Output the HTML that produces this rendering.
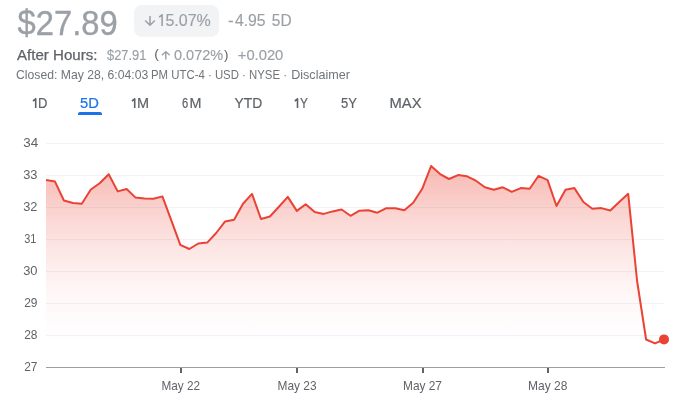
<!DOCTYPE html>
<html><head><meta charset="utf-8">
<style>
html,body{margin:0;padding:0;background:#fff;width:685px;height:407px;overflow:hidden}
svg{display:block;will-change:transform;font-family:"Liberation Sans",sans-serif}
.grid line{stroke:#f1f3f4;stroke-width:1}

</style></head><body>
<svg id="all" width="685" height="407" viewBox="0 0 685 407">
<defs><linearGradient id="g" x1="0" y1="166" x2="0" y2="343" gradientUnits="userSpaceOnUse"><stop offset="0" stop-color="#ea4335" stop-opacity="0.37"/><stop offset="0.137" stop-color="#ea4335" stop-opacity="0.3"/><stop offset="0.316" stop-color="#ea4335" stop-opacity="0.2"/><stop offset="0.486" stop-color="#ea4335" stop-opacity="0.125"/><stop offset="0.684" stop-color="#ea4335" stop-opacity="0.05"/><stop offset="0.853" stop-color="#ea4335" stop-opacity="0.02"/><stop offset="1" stop-color="#ea4335" stop-opacity="0"/></linearGradient></defs>
<rect x="134" y="5" width="85" height="31.8" rx="8" fill="#f1f3f4"/>
<path d="M150,16 V25.3 M145.2,20.4 L150,25.3 L154.8,20.4" fill="none" stroke="#9aa0a6" stroke-width="1.5"/>
<path d="M165.8,59.5 V51.6 M161.9,55.2 L165.8,51.6 L169.7,55.2" fill="none" stroke="#9aa0a6" stroke-width="1.4"/>
<text id="price" x="17.60" y="34.5" font-size="34.2" fill="#9aa0a6" stroke="#9aa0a6" stroke-width="0.35" textLength="100.07" lengthAdjust="spacingAndGlyphs">$27.89</text><text id="badge" x="165.40" y="26" font-size="16.5" fill="#9aa0a6" stroke="#9aa0a6" stroke-width="0.15" textLength="45.39" lengthAdjust="spacingAndGlyphs">5.07%</text><text id="chgA" x="227.90" y="25.5" font-size="16.5" fill="#9aa0a6" stroke="#9aa0a6" stroke-width="0.15" textLength="5.73" lengthAdjust="spacingAndGlyphs">-</text><text id="chgB" x="234.90" y="25.5" font-size="16.5" fill="#9aa0a6" stroke="#9aa0a6" stroke-width="0.15" textLength="30.76" lengthAdjust="spacingAndGlyphs">4.95</text><text id="chgC" x="271.80" y="25.5" font-size="16.5" fill="#9aa0a6" stroke="#9aa0a6" stroke-width="0.15" textLength="19.78" lengthAdjust="spacingAndGlyphs">5D</text><text id="ah" x="17.00" y="60" font-size="14" fill="#5f6368" stroke="#5f6368" stroke-width="0.25" textLength="80.41" lengthAdjust="spacingAndGlyphs">After Hours:</text><text id="ah1" x="107.00" y="60" font-size="14" fill="#9aa0a6" stroke="#9aa0a6" stroke-width="0.15" textLength="39.44" lengthAdjust="spacingAndGlyphs">$27.91</text><text id="ahp1" x="154.30" y="58.4" font-size="12.5" fill="#5f6368" textLength="4.70" lengthAdjust="spacingAndGlyphs">(</text><text id="ah2" x="174.00" y="60" font-size="14" fill="#9aa0a6" stroke="#9aa0a6" stroke-width="0.15" textLength="49.11" lengthAdjust="spacingAndGlyphs">0.072%</text><text id="ahp2" x="224.00" y="59.1" font-size="12.5" fill="#5f6368" textLength="4.40" lengthAdjust="spacingAndGlyphs">)</text><text id="ah3" x="237.80" y="60" font-size="14" fill="#9aa0a6" stroke="#9aa0a6" stroke-width="0.15" textLength="45.53" lengthAdjust="spacingAndGlyphs">+0.020</text><text id="closedA" x="16.00" y="78.6" font-size="13" fill="#70757a" textLength="132.28" lengthAdjust="spacingAndGlyphs">Closed: May 28, 6:04:03</text><text id="closedB" x="151.00" y="78.6" font-size="13" fill="#70757a" textLength="136.01" lengthAdjust="spacingAndGlyphs">PM UTC-4 · USD · NYSE ·</text><text id="closedC" x="291.20" y="78.6" font-size="13" fill="#70757a" textLength="58.70" lengthAdjust="spacingAndGlyphs">Disclaimer</text><text id="tabD" x="38.00" y="108" font-size="14" fill="#5f6368" stroke="#5f6368" stroke-width="0.2" textLength="9.41" lengthAdjust="spacingAndGlyphs">D</text><text id="tab5D" x="80.00" y="108" font-size="14" fill="#1a73e8" stroke="#1a73e8" stroke-width="0.2" textLength="18.81" lengthAdjust="spacingAndGlyphs">5D</text><text id="tabM" x="137.00" y="108" font-size="14" fill="#5f6368" stroke="#5f6368" stroke-width="0.2" textLength="12.06" lengthAdjust="spacingAndGlyphs">M</text><text id="tab6" x="182.00" y="108" font-size="14" fill="#5f6368" stroke="#5f6368" stroke-width="0.2" textLength="6.20" lengthAdjust="spacingAndGlyphs">6</text><text id="tab6M_M" x="189.60" y="108" font-size="14" fill="#5f6368" stroke="#5f6368" stroke-width="0.2" textLength="11.95" lengthAdjust="spacingAndGlyphs">M</text><text id="tabYTD" x="234.50" y="108" font-size="14" fill="#5f6368" stroke="#5f6368" stroke-width="0.2" textLength="27.72" lengthAdjust="spacingAndGlyphs">YTD</text><text id="tabY" x="300.00" y="108" font-size="14" fill="#5f6368" stroke="#5f6368" stroke-width="0.2" textLength="7.93" lengthAdjust="spacingAndGlyphs">Y</text><text id="tab5Y" x="341.00" y="108" font-size="14" fill="#5f6368" stroke="#5f6368" stroke-width="0.2" textLength="15.90" lengthAdjust="spacingAndGlyphs">5Y</text><text id="tabMAX" x="389.50" y="108" font-size="14" fill="#5f6368" stroke="#5f6368" stroke-width="0.2" textLength="32.07" lengthAdjust="spacingAndGlyphs">MAX</text><text id="y34" x="23.20" y="147" font-size="13" fill="#5f6368" textLength="14.98" lengthAdjust="spacingAndGlyphs">34</text><text id="y33" x="23.20" y="179" font-size="13" fill="#5f6368" textLength="14.32" lengthAdjust="spacingAndGlyphs">33</text><text id="y32" x="23.20" y="211" font-size="13" fill="#5f6368" textLength="14.24" lengthAdjust="spacingAndGlyphs">32</text><text id="y31" x="24.20" y="243" font-size="13" fill="#5f6368" textLength="12.16" lengthAdjust="spacingAndGlyphs">31</text><text id="y30" x="23.20" y="275" font-size="13" fill="#5f6368" textLength="14.37" lengthAdjust="spacingAndGlyphs">30</text><text id="y29" x="24.20" y="307" font-size="13" fill="#5f6368" textLength="13.27" lengthAdjust="spacingAndGlyphs">29</text><text id="y28" x="24.20" y="339" font-size="13" fill="#5f6368" textLength="13.27" lengthAdjust="spacingAndGlyphs">28</text><text id="y27" x="24.20" y="371" font-size="13" fill="#5f6368" textLength="13.27" lengthAdjust="spacingAndGlyphs">27</text><text id="x22" x="161.50" y="390" font-size="13" fill="#5f6368" textLength="38.56" lengthAdjust="spacingAndGlyphs">May 22</text><text id="x23" x="277.50" y="390" font-size="13" fill="#5f6368" textLength="39.04" lengthAdjust="spacingAndGlyphs">May 23</text><text id="x27" x="403.00" y="390" font-size="13" fill="#5f6368" textLength="38.94" lengthAdjust="spacingAndGlyphs">May 27</text><text id="x28" x="528.00" y="390" font-size="13" fill="#5f6368" textLength="39.35" lengthAdjust="spacingAndGlyphs">May 28</text>
<path d="M35.70,107.9 V98.4 M36.30,98.5 L33.00,101.0" fill="none" stroke="#5f6368" stroke-width="1.6"/><path d="M134.70,107.9 V98.4 M135.30,98.5 L132.00,101.0" fill="none" stroke="#5f6368" stroke-width="1.6"/><path d="M297.50,107.9 V98.4 M298.10,98.5 L294.80,101.0" fill="none" stroke="#5f6368" stroke-width="1.6"/><path d="M162.10,26 V14.4 M162.70,14.5 L159.10,17.1" fill="none" stroke="#9aa0a6" stroke-width="1.6"/>
<path d="M78,115 V114 Q78,112 80,112 H100 Q102,112 102,114 V115 Z" fill="#1a73e8"/>
<g class="grid"><line x1="46" y1="143.5" x2="664" y2="143.5" /><line x1="46" y1="175.5" x2="664" y2="175.5" /><line x1="46" y1="207.5" x2="664" y2="207.5" /><line x1="46" y1="239.5" x2="664" y2="239.5" /><line x1="46" y1="271.5" x2="664" y2="271.5" /><line x1="46" y1="303.5" x2="664" y2="303.5" /><line x1="46" y1="335.5" x2="664" y2="335.5" /></g>
<path d="M46.0,180.1 L55.0,181.6 L63.9,200.5 L72.9,203.0 L81.8,203.7 L90.8,189.5 L99.7,183.3 L108.7,174.3 L117.7,191.4 L126.6,189.0 L135.6,197.6 L144.5,198.6 L153.5,198.8 L162.4,196.4 L171.4,220.6 L180.3,244.8 L189.3,249.0 L198.3,243.5 L207.2,242.6 L216.2,233.0 L225.1,221.4 L234.1,219.7 L243.0,203.7 L252.0,193.9 L261.0,219.0 L269.9,216.5 L278.9,206.7 L287.8,196.9 L296.8,210.9 L305.7,204.2 L314.7,212.1 L323.7,213.9 L332.6,211.4 L341.6,209.5 L350.5,215.8 L359.5,210.7 L368.4,210.2 L377.4,212.7 L386.3,208.2 L395.3,208.2 L404.3,210.2 L413.2,202.8 L422.2,188.8 L431.1,166.0 L440.1,174.1 L449.0,179.0 L458.0,175.1 L467.0,176.3 L475.9,180.7 L484.9,187.3 L493.8,189.8 L502.8,187.3 L511.7,191.8 L520.7,188.1 L529.7,188.8 L538.6,175.8 L547.6,180.2 L556.5,206.0 L565.5,189.8 L574.4,188.1 L583.4,202.0 L592.3,208.8 L601.3,208.1 L610.3,210.5 L619.2,202.0 L628.2,193.8 L637.1,281.0 L646.1,339.5 L655.0,343.4 L664.0,339.5 L664.0,367 L46.0,367 Z" fill="url(#g)"/>
<path d="M46.0,180.1 L55.0,181.6 L63.9,200.5 L72.9,203.0 L81.8,203.7 L90.8,189.5 L99.7,183.3 L108.7,174.3 L117.7,191.4 L126.6,189.0 L135.6,197.6 L144.5,198.6 L153.5,198.8 L162.4,196.4 L171.4,220.6 L180.3,244.8 L189.3,249.0 L198.3,243.5 L207.2,242.6 L216.2,233.0 L225.1,221.4 L234.1,219.7 L243.0,203.7 L252.0,193.9 L261.0,219.0 L269.9,216.5 L278.9,206.7 L287.8,196.9 L296.8,210.9 L305.7,204.2 L314.7,212.1 L323.7,213.9 L332.6,211.4 L341.6,209.5 L350.5,215.8 L359.5,210.7 L368.4,210.2 L377.4,212.7 L386.3,208.2 L395.3,208.2 L404.3,210.2 L413.2,202.8 L422.2,188.8 L431.1,166.0 L440.1,174.1 L449.0,179.0 L458.0,175.1 L467.0,176.3 L475.9,180.7 L484.9,187.3 L493.8,189.8 L502.8,187.3 L511.7,191.8 L520.7,188.1 L529.7,188.8 L538.6,175.8 L547.6,180.2 L556.5,206.0 L565.5,189.8 L574.4,188.1 L583.4,202.0 L592.3,208.8 L601.3,208.1 L610.3,210.5 L619.2,202.0 L628.2,193.8 L637.1,281.0 L646.1,339.5 L655.0,343.4 L664.0,339.5" fill="none" stroke="#ea4335" stroke-width="2" stroke-linejoin="round"/>
<circle cx="664" cy="339.4" r="5" fill="#ea4335"/>
<line x1="46" y1="367.5" x2="665" y2="367.5" stroke="#9aa0a6" stroke-width="1"/>
<rect x="180" y="368" width="2" height="5" fill="#5f6368"/><rect x="296" y="368" width="2" height="5" fill="#5f6368"/><rect x="422" y="368" width="2" height="5" fill="#5f6368"/><rect x="547" y="368" width="2" height="5" fill="#5f6368"/>
</svg>
</body></html>
